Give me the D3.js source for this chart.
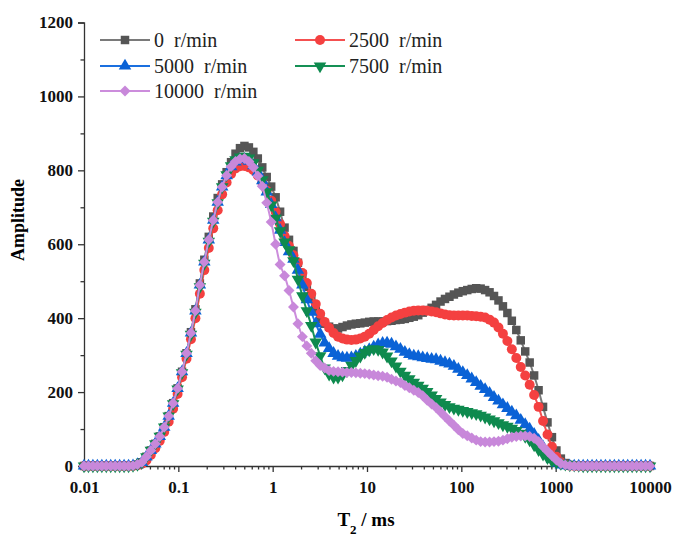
<!DOCTYPE html>
<html>
<head>
<meta charset="utf-8">
<script src="https://cdn.jsdelivr.net/npm/d3@7"></script>
<style>
  body { margin: 0; background: #fff; }
  svg text { font-family: "Liberation Serif", "Times New Roman", serif; }
</style>
</head>
<body>
<div id="chart"></div>
<script>
// T2 spectra, 128 log-spaced relaxation times (instrument grid) from 0.01 to 10000 ms
const t2Min = 0.01, t2Max = 10000, t2Count = 128;
const t2 = d3.range(t2Count).map(i => t2Min * Math.pow(t2Max / t2Min, i / (t2Count - 1)));

const xTicks = [0.01, 0.1, 1, 10, 100, 1000, 10000];
const yTicks = [0, 200, 400, 600, 800, 1000, 1200];

const names = ["0  r/min", "2500  r/min", "5000  r/min", "7500  r/min", "10000  r/min"];

// amplitudes, one value per grid point
const amp0 = [
  0,0,0,0,0,0,0,0,0,0,
  0,1,4,10,25,42,60,80,105,135,
  170,210,255,305,362,424,494,558,620,675,
  725,762,795,822,845,860,866,862,850,832,
  808,782,756,727,688,645,612,582,550,519,
  485,452,420,398,385,377,372,372,376,380,
  383,385,386,388,390,391,391,391,392,393,
  395,396,398,401,404,408,415,422,428,436,
  445,452,458,464,469,473,476,479,481,480,
  476,470,460,448,432,414,393,368,340,310,
  280,245,205,160,118,78,42,20,8,3,
  1,0,0,0,0,0,0,0,0,0,
  0,0,0,0,0,0,0,0
];
const amp2500 = [
  0,0,0,0,0,0,0,0,0,0,
  0,0,2,6,15,30,48,68,92,120,
  155,195,240,290,343,400,466,530,590,643,
  692,735,767,790,805,811,812,808,800,786,
  768,745,718,688,655,622,595,570,550,522,
  495,466,438,412,390,374,360,350,345,342,
  341,342,345,350,358,368,378,387,395,402,
  407,411,415,418,420,421,421,420,418,416,
  413,410,408,407,407,407,407,406,405,404,
  402,396,388,375,358,338,316,292,268,245,
  220,192,160,122,85,52,25,10,4,1,
  0,0,0,0,0,0,0,0,0,0,
  0,0,0,0,0,0,0,0
];
const amp5000 = [
  0,0,0,0,0,0,0,0,0,0,
  0,1,4,10,25,42,60,80,105,135,
  170,210,255,305,360,420,490,552,612,665,
  714,755,786,810,823,829,830,825,813,795,
  772,742,708,672,638,605,580,560,530,490,
  450,416,385,357,333,318,305,297,293,292,
  293,297,303,309,315,322,328,332,333,330,
  323,316,308,302,298,296,293,291,289,288,
  284,280,276,270,262,253,245,236,226,216,
  207,197,186,176,166,156,146,136,124,112,
  100,86,70,52,34,18,8,3,1,0,
  0,0,0,0,0,0,0,0,0,0,
  0,0,0,0,0,0,0,0
];
const amp7500 = [
  0,0,0,0,0,0,0,0,0,0,
  0,1,4,10,25,42,60,80,105,135,
  168,208,252,302,356,416,485,548,608,662,
  712,755,788,812,828,836,838,833,820,800,
  774,742,706,670,636,606,585,555,505,460,
  420,380,335,298,265,248,240,240,246,258,
  272,285,297,307,314,317,315,308,297,284,
  270,256,245,236,226,218,210,201,192,182,
  173,166,160,156,153,150,147,144,141,137,
  132,127,122,117,111,107,102,96,88,80,
  70,57,44,32,22,14,10,7,5,3,
  2,1,0,0,0,0,0,0,0,0,
  0,0,0,0,0,0,0,0
];
const amp10000 = [
  0,0,0,0,0,0,0,0,0,0,
  0,1,4,10,25,42,60,80,105,135,
  170,210,255,305,360,420,490,552,612,665,
  714,755,786,810,824,831,832,824,808,785,
  757,712,660,600,545,515,475,430,385,350,
  325,305,285,272,265,258,256,255,254,253,
  253,252,251,250,248,246,244,243,240,235,
  230,226,218,212,205,199,190,178,168,158,
  146,134,122,110,98,88,82,76,70,66,
  65,65,66,67,70,74,78,80,81,81,
  80,75,66,52,40,28,16,7,3,1,
  0,0,0,0,0,0,0,0,0,0,
  0,0,0,0,0,0,0,0
];

const series = [
  {name: names[0], values: amp0,     line: "#7a7a7a", fill: "#555555", shape: "square"},
  {name: names[1], values: amp2500,  line: "#f45050", fill: "#f44040", shape: "circle"},
  {name: names[2], values: amp5000,  line: "#1a6fdf", fill: "#0a62d6", shape: "up"},
  {name: names[3], values: amp7500,  line: "#159055", fill: "#0e8a4e", shape: "down"},
  {name: names[4], values: amp10000, line: "#cc8ddc", fill: "#c888da", shape: "diamond"}
];

const width = 673, height = 537;
const svg = d3.select("#chart").append("svg")
  .attr("width", width).attr("height", height);

const x = d3.scaleLog().domain([t2Min, t2Max]).range([84, 650]);
const y = d3.scaleLinear().domain([0, 1200]).range([466, 22.5]);

const axisColor = "#333";

// y axis
const yAxis = svg.append("g")
  .attr("transform", "translate(84,0)")
  .call(d3.axisLeft(y).tickValues(yTicks).tickSize(6).tickPadding(5).tickFormat(d3.format("d")));
yAxis.selectAll("text").style("font-size", "17px").style("font-weight", "bold").attr("fill", "#111");
svg.append("g")
  .attr("transform", "translate(84,0)")
  .call(d3.axisLeft(y).tickValues(d3.range(100, 1200, 200)).tickSize(3.5).tickFormat(""))
  .select(".domain").remove();

// x axis
const xAxis = svg.append("g")
  .attr("transform", "translate(0,466)")
  .call(d3.axisBottom(x).tickValues(xTicks).tickSize(6).tickPadding(9).tickFormat(d => String(d)));
xAxis.selectAll("text").style("font-size", "17px").style("font-weight", "bold").attr("fill", "#111");
const minorX = [];
xTicks.slice(0, -1).forEach(d => { for (let k = 2; k <= 9; k++) minorX.push(d * k); });
svg.append("g")
  .attr("transform", "translate(0,466)")
  .call(d3.axisBottom(x).tickValues(minorX).tickSize(3.5).tickFormat(""))
  .select(".domain").remove();

svg.selectAll(".domain, .tick line").attr("stroke", axisColor).attr("stroke-width", 1.3);

// axis titles
svg.append("text")
  .attr("transform", "translate(24,220) rotate(-90)")
  .attr("text-anchor", "middle")
  .style("font-size", "18px").style("font-weight", "bold")
  .text("Amplitude");

const xTitle = svg.append("text")
  .attr("x", 366).attr("y", 526)
  .attr("text-anchor", "middle")
  .style("font-size", "19px").style("font-weight", "bold");
xTitle.append("tspan").text("T");
xTitle.append("tspan").attr("baseline-shift", "sub").style("font-size", "13px").text("2");
xTitle.append("tspan").text(" / ms");

// markers
function symbolFor(shape) {
  if (shape === "square") return d3.symbol(d3.symbolSquare, 72)();
  if (shape === "circle") return d3.symbol(d3.symbolCircle, 78)();
  if (shape === "diamond") return d3.symbol(d3.symbolSquare, 60)();
  return d3.symbol(d3.symbolTriangle, 68)();
}
function rot(shape) {
  if (shape === "down") return " rotate(180)";
  if (shape === "diamond") return " rotate(45)";
  return "";
}

const line = d3.line().x((d, i) => x(t2[i])).y(d => y(d)).curve(d3.curveMonotoneX);

series.forEach(s => {
  const g = svg.append("g");
  g.append("path")
    .datum(s.values)
    .attr("d", line)
    .attr("fill", "none")
    .attr("stroke", s.line)
    .attr("stroke-width", 2);
  g.selectAll("path.m")
    .data(s.values)
    .enter().append("path")
    .attr("class", "m")
    .attr("d", symbolFor(s.shape))
    .attr("transform", (d, i) => "translate(" + x(t2[i]) + "," + y(d) + ")" + rot(s.shape))
    .attr("fill", s.fill);
});

// legend
const legendPos = [[100, 40], [295, 40], [100, 66], [295, 66], [100, 91]];
series.forEach((s, i) => {
  const [lx, ly] = legendPos[i];
  const g = svg.append("g").attr("transform", "translate(" + lx + "," + ly + ")");
  g.append("line").attr("x1", 0).attr("x2", 50).attr("y1", 0).attr("y2", 0)
    .attr("stroke", s.line).attr("stroke-width", 2);
  g.append("path").attr("d", symbolFor(s.shape))
    .attr("transform", "translate(25,0)" + rot(s.shape))
    .attr("fill", s.fill);
  g.append("text")
    .attr("x", 54).attr("y", 7)
    .style("font-size", "20px")
    .style("white-space", "pre")
    .attr("fill", "#222")
    .text(s.name);
});
</script>
</body>
</html>
